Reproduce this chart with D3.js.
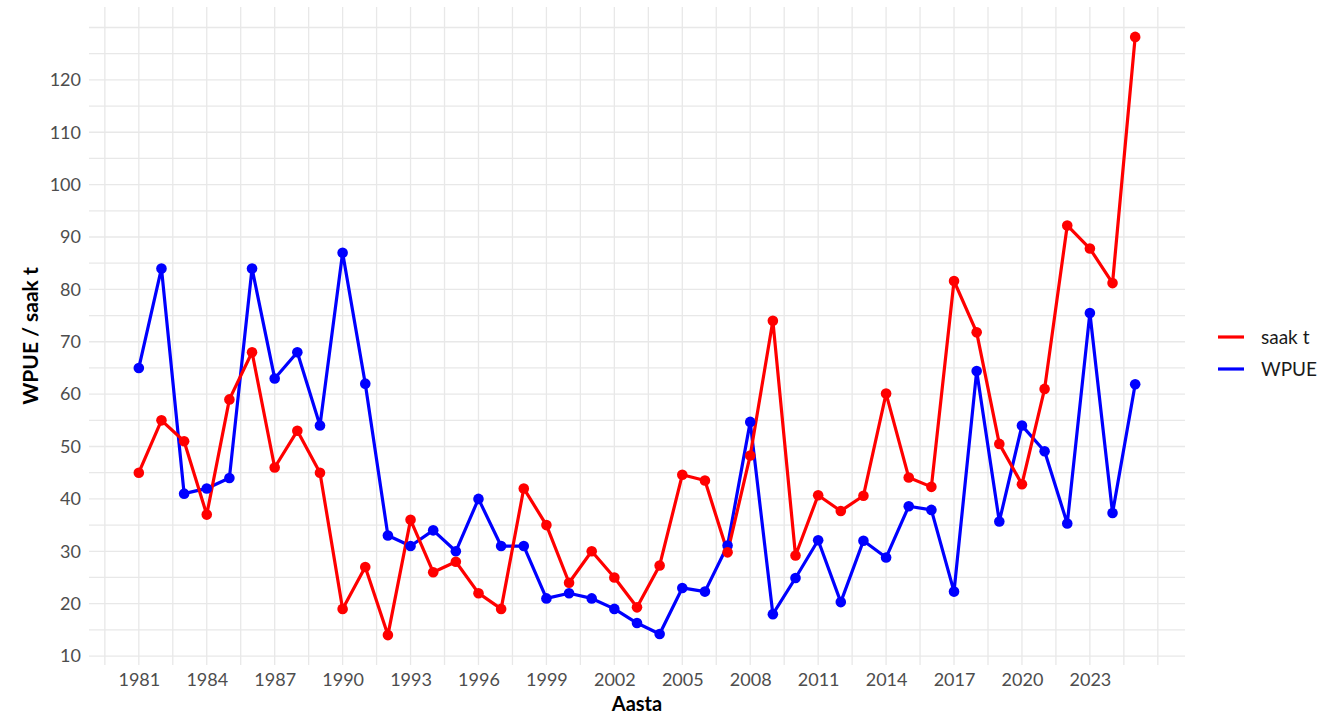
<!DOCTYPE html>
<html>
<head>
<meta charset="utf-8">
<script src="https://cdn.jsdelivr.net/npm/d3@7"></script>
<style>
  html, body { margin: 0; padding: 0; background: #fff; }
  svg { display: block; font-family: Lato, "Open Sans", sans-serif; }
</style>
</head>
<body>
<div id="chart"></div>
<script>
// years and the two series
const years = d3.range(1981, 2026);
const saakT = [45, 55, 51, 37, 59, 68, 46, 53, 45, 19, 27, 14, 36, 26, 28, 22, 19, 42, 35, 24,
  30, 25, 19.3, 27.3, 44.6, 43.5, 29.8, 48.3, 74, 29.2, 40.7, 37.7, 40.6, 60.1, 44.1, 42.3,
  81.6, 71.8, 50.5, 42.8, 61, 92.2, 87.8, 81.2, 128.2];
const wpue = [65, 84, 41, 42, 44, 84, 63, 68, 54, 87, 62, 33, 31, 34, 30, 40, 31, 31, 21, 22,
  21, 19, 16.3, 14.2, 23, 22.3, 31.1, 54.7, 18, 24.9, 32.1, 20.3, 32, 28.8, 38.6, 37.9,
  22.3, 64.4, 35.7, 54, 49.1, 35.3, 75.5, 37.3, 61.9];
const xTicks = d3.range(1981, 2024, 3);
const yTicks = d3.range(10, 121, 10);

const series = [
  { name: "WPUE", values: wpue, color: "#0000ff" },
  { name: "saak t", values: saakT, color: "#ff0000" }
];
const legendOrder = ["saak t", "WPUE"];

const width = 1337, height = 715;
const panel = { left: 89, right: 1185, top: 7, bottom: 665 };

const svg = d3.select("#chart").append("svg")
  .attr("width", width).attr("height", height);

// ggplot-style 5% expansion
const xSpan = d3.max(years) - d3.min(years);
const x = d3.scaleLinear()
  .domain([d3.min(years) - xSpan * 0.05, d3.max(years) + xSpan * 0.05])
  .range([panel.left, panel.right]);

const allVals = saakT.concat(wpue);
const yLo = d3.min(allVals), yHi = d3.max(allVals), ySpan = yHi - yLo;
const y = d3.scaleLinear()
  .domain([yLo - ySpan * 0.05, yHi + ySpan * 0.05])
  .range([panel.bottom, panel.top]);

// grid (major + minor)
const grid = svg.append("g");
const xGrid = d3.range(1979.5, 2026.1, 1.5);
const yGrid = d3.range(10, 130.1, 5);
grid.selectAll("line.vx").data(xGrid).enter().append("line")
  .attr("x1", d => x(d)).attr("x2", d => x(d))
  .attr("y1", panel.top).attr("y2", panel.bottom)
  .attr("stroke", "#e8e8e8").attr("stroke-width", 1.3);
grid.selectAll("line.hy").data(yGrid).enter().append("line")
  .attr("x1", panel.left).attr("x2", panel.right)
  .attr("y1", d => y(d)).attr("y2", d => y(d))
  .attr("stroke", "#e8e8e8").attr("stroke-width", 1.3);

// axes (labels only, as in theme_minimal)
const xAxis = svg.append("g")
  .attr("transform", `translate(0,${panel.bottom})`)
  .call(d3.axisBottom(x).tickValues(xTicks).tickFormat(d3.format("d")).tickSize(0).tickPadding(8));
const yAxis = svg.append("g")
  .attr("transform", `translate(${panel.left},0)`)
  .call(d3.axisLeft(y).tickValues(yTicks).tickSize(0).tickPadding(8));
[xAxis, yAxis].forEach(a => {
  a.select(".domain").remove();
  a.selectAll("text").attr("fill", "#4d4d4d").style("font-size", "18px")
    .style("font-family", "Lato, 'Open Sans', sans-serif");
});

// lines then points
const line = d3.line().x((d, i) => x(years[i])).y(d => y(d));
const g = svg.append("g");
series.forEach(s => {
  g.append("path").datum(s.values)
    .attr("d", line).attr("fill", "none")
    .attr("stroke", s.color).attr("stroke-width", 3.2)
    .attr("stroke-linejoin", "round");
});
series.forEach(s => {
  g.selectAll(null).data(s.values).enter().append("circle")
    .attr("cx", (d, i) => x(years[i])).attr("cy", d => y(d))
    .attr("r", 5.3).attr("fill", s.color);
});

// axis titles
svg.append("text")
  .attr("x", (panel.left + panel.right) / 2).attr("y", 710.5)
  .attr("text-anchor", "middle").attr("font-weight", "bold")
  .style("font-size", "20px").text("Aasta");
svg.append("text")
  .attr("transform", `translate(38,${(panel.top + panel.bottom) / 2}) rotate(-90)`)
  .attr("text-anchor", "middle").attr("font-weight", "bold")
  .style("font-size", "21px").text("WPUE / saak t");

// legend
const legend = svg.append("g").attr("transform", "translate(1218,337)");
legendOrder.forEach((name, i) => {
  const s = series.find(d => d.name === name);
  const row = legend.append("g").attr("transform", `translate(0,${i * 32})`);
  row.append("line").attr("x1", 0).attr("x2", 26)
    .attr("stroke", s.color).attr("stroke-width", 3.2);
  row.append("text").attr("x", 43).attr("dy", "0.35em")
    .attr("fill", "#1a1a1a").style("font-size", "19px").text(name);
});
</script>
</body>
</html>
